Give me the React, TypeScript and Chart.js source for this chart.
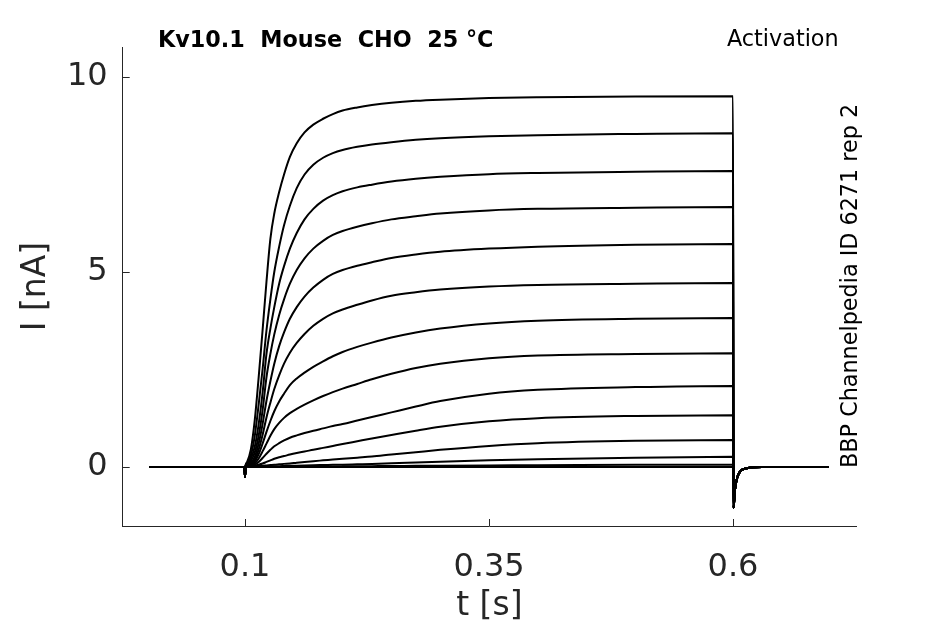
import { useEffect, useRef } from "react";
import { Chart, registerables } from "chart.js";

Chart.register(...registerables);

// sample times (s) of the digitised sweeps
const times = [
  0.002, 0.0995, 0.1, 0.1008,
  0.102, 0.106, 0.11, 0.114, 0.118, 0.122, 0.126, 0.13, 0.135, 0.14, 0.146, 0.153, 0.161, 0.17, 0.18, 0.19, 0.2,
  0.215, 0.23, 0.25, 0.275, 0.3, 0.35, 0.4, 0.5, 0.6,
  0.6005, 0.602, 0.6037, 0.6071, 0.614, 0.63, 0.698,
];

// holding level + capacitive blip at step onset, and tail after the step (nA)
const onset = [0, 0, -0.25, 0.05];
const tail = [-1.05, -0.59, -0.33, -0.12, -0.03, 0, 0];

// current during the step, 0.102 .. 0.6 s (nA), largest sweep first
const sweep1 = [0.12, 0.45, 1.2, 2.3, 3.5, 4.75, 5.85, 6.5, 7.05, 7.5, 7.95, 8.3, 8.58, 8.78, 8.93, 9.05, 9.14, 9.22, 9.28, 9.34, 9.39, 9.42, 9.46, 9.48, 9.5, 9.51];
const sweep2 = [0.1, 0.3, 0.8, 1.6, 2.5, 3.5, 4.3, 5.0, 5.65, 6.2, 6.7, 7.15, 7.5, 7.75, 7.93, 8.05, 8.13, 8.21, 8.27, 8.33, 8.39, 8.43, 8.48, 8.51, 8.54, 8.56];
const sweep3 = [0.08, 0.22, 0.52, 1.1, 1.9, 2.9, 3.55, 4.1, 4.7, 5.15, 5.6, 6.0, 6.35, 6.62, 6.83, 6.97, 7.07, 7.17, 7.24, 7.32, 7.39, 7.44, 7.51, 7.54, 7.57, 7.59];
const sweep4 = [0.07, 0.16, 0.37, 0.8, 1.45, 2.3, 2.9, 3.4, 3.9, 4.3, 4.7, 5.05, 5.35, 5.6, 5.8, 5.95, 6.05, 6.16, 6.25, 6.35, 6.43, 6.5, 6.58, 6.62, 6.65, 6.67];
const sweep5 = [0.06, 0.11, 0.26, 0.6, 1.1, 1.7, 2.2, 2.65, 3.1, 3.45, 3.8, 4.1, 4.37, 4.6, 4.8, 4.95, 5.05, 5.16, 5.25, 5.36, 5.45, 5.52, 5.6, 5.65, 5.7, 5.72];
const sweep6 = [0.05, 0.08, 0.19, 0.45, 0.82, 1.27, 1.65, 2.0, 2.35, 2.65, 2.93, 3.18, 3.41, 3.62, 3.8, 3.94, 4.04, 4.16, 4.27, 4.39, 4.48, 4.55, 4.63, 4.67, 4.7, 4.72];
const sweep7 = [0.05, 0.06, 0.14, 0.33, 0.6, 0.9, 1.18, 1.43, 1.68, 1.88, 2.1, 2.27, 2.42, 2.57, 2.71, 2.84, 2.95, 3.08, 3.19, 3.32, 3.45, 3.55, 3.68, 3.75, 3.8, 3.82];
const sweep8 = [0.05, 0.05, 0.09, 0.22, 0.4, 0.6, 0.8, 0.97, 1.13, 1.26, 1.38, 1.49, 1.6, 1.71, 1.82, 1.92, 2.01, 2.13, 2.25, 2.39, 2.54, 2.65, 2.79, 2.86, 2.9, 2.92];
const sweep9 = [0.04, 0.04, 0.06, 0.13, 0.23, 0.34, 0.44, 0.53, 0.61, 0.68, 0.75, 0.81, 0.87, 0.93, 0.99, 1.05, 1.1, 1.19, 1.28, 1.4, 1.55, 1.69, 1.88, 1.98, 2.05, 2.08];
const sweep10 = [0.04, 0.03, 0.04, 0.06, 0.09, 0.13, 0.17, 0.21, 0.25, 0.28, 0.32, 0.36, 0.4, 0.44, 0.49, 0.54, 0.59, 0.66, 0.73, 0.82, 0.93, 1.03, 1.17, 1.25, 1.31, 1.33];
const sweep11 = [0.02, 0.02, 0.02, 0.025, 0.03, 0.04, 0.05, 0.06, 0.07, 0.08, 0.09, 0.11, 0.13, 0.15, 0.17, 0.19, 0.21, 0.24, 0.27, 0.32, 0.38, 0.44, 0.54, 0.61, 0.67, 0.69];
const sweep12 = [0.01, 0.01, 0.01, 0.01, 0.01, 0.01, 0.015, 0.02, 0.02, 0.025, 0.03, 0.035, 0.04, 0.045, 0.05, 0.055, 0.06, 0.07, 0.08, 0.095, 0.115, 0.135, 0.17, 0.2, 0.24, 0.26];
const sweep13 = [0.01, 0, 0, 0, 0, 0, 0, 0, 0, 0, 0, 0.005, 0.01, 0.01, 0.012, 0.014, 0.016, 0.02, 0.022, 0.025, 0.03, 0.034, 0.04, 0.045, 0.055, 0.06];
const sweep14 = [0.01, 0, 0, 0, 0, 0, 0, 0, 0, 0, 0, 0, 0, 0, 0, 0, 0, 0, 0, 0, 0, 0, 0, 0, 0, 0];

const sweeps = [sweep1, sweep2, sweep3, sweep4, sweep5, sweep6, sweep7, sweep8, sweep9, sweep10, sweep11, sweep12, sweep13, sweep14];

const xTicks = [0.1, 0.35, 0.6];
const yTicks = [0, 5, 10];

const titleText = "Kv10.1  Mouse  CHO  25 °C";
const protocolText = "Activation";
const sourceText = "BBP Channelpedia ID 6271 rep 2";

const FONT = "'DejaVu Sans'";
const AXIS = "#262626";

const decorations = {
  id: "decorations",
  afterDraw(chart: any) {
    const { ctx, chartArea, scales } = chart;
    ctx.save();
    // ticks point into the axes
    ctx.strokeStyle = AXIS;
    ctx.lineWidth = 1;
    xTicks.forEach((v) => {
      const x = Math.round(scales.x.getPixelForValue(v)) + 0.5;
      ctx.beginPath();
      ctx.moveTo(x, chartArea.bottom);
      ctx.lineTo(x, chartArea.bottom - 7);
      ctx.stroke();
    });
    yTicks.forEach((v) => {
      const y = Math.round(scales.y.getPixelForValue(v)) + 0.5;
      ctx.beginPath();
      ctx.moveTo(chartArea.left, y);
      ctx.lineTo(chartArea.left + 7, y);
      ctx.stroke();
    });

    ctx.fillStyle = "#000";
    ctx.textBaseline = "alphabetic";
    ctx.textAlign = "left";
    ctx.font = `bold 22.3px ${FONT}`;
    ctx.fillText(titleText, 158, 47);
    ctx.font = `22.3px ${FONT}`;
    ctx.fillText(protocolText, 727, 46);
    ctx.translate(857, 468);
    ctx.rotate(-Math.PI / 2);
    ctx.fillText(sourceText, 0, 0);
    ctx.restore();
  },
};

export default function App() {
  const chartRef = useRef<HTMLCanvasElement>(null);
  const chartInstance = useRef<Chart | null>(null);

  useEffect(() => {
    if (!chartRef.current) return;
    const ctx = chartRef.current.getContext("2d");
    if (!ctx) return;
    if (chartInstance.current) chartInstance.current.destroy();

    Chart.defaults.font.family = FONT;

    chartInstance.current = new Chart(ctx, {
      type: "line",
      data: {
        datasets: sweeps.map((s) => {
          const current = [...onset, ...s, ...tail];
          return {
            data: times.map((t, i) => ({ x: t, y: current[i] })),
            borderColor: "#000",
            borderWidth: 2,
            pointRadius: 0,
            fill: false,
            cubicInterpolationMode: "monotone" as const,
          };
        }),
      },
      options: {
        responsive: true,
        maintainAspectRatio: false,
        animation: false,
        events: [],
        layout: { padding: { left: 0, right: 89, top: 47, bottom: 0 } },
        plugins: { legend: { display: false }, tooltip: { enabled: false } },
        scales: {
          x: {
            type: "linear",
            min: -0.0253,
            max: 0.726,
            afterBuildTicks: (s: any) => {
              s.ticks = xTicks.map((v) => ({ value: v }));
            },
            afterFit: (s: any) => {
              s.height = 98;
            },
            grid: { display: false, drawTicks: false },
            border: { display: true, color: AXIS, width: 1 },
            ticks: {
              color: AXIS,
              font: { size: 32 },
              padding: 22,
              maxRotation: 0,
              autoSkip: false,
              callback: (v: any) => String(v),
            },
            title: { display: true, text: "t [s]", color: AXIS, font: { size: 33 }, padding: { top: 0, bottom: -2 } },
          },
          y: {
            type: "linear",
            min: -1.513,
            max: 10.77,
            afterBuildTicks: (s: any) => {
              s.ticks = yTicks.map((v) => ({ value: v }));
            },
            afterFit: (s: any) => {
              s.width = 122.7;
            },
            grid: { display: false, drawTicks: false },
            border: { display: true, color: AXIS, width: 1 },
            ticks: {
              color: AXIS,
              font: { size: 32 },
              padding: 15,
              callback: (v: any) => String(v),
            },
            title: { display: true, text: "I [nA]", color: AXIS, font: { size: 33 }, padding: { top: 17, bottom: 0 } },
          },
        },
      },
      plugins: [decorations],
    });

    return () => {
      if (chartInstance.current) {
        chartInstance.current.destroy();
        chartInstance.current = null;
      }
    };
  }, []);

  return (
    <div style={{ position: "fixed", left: 0, top: 0, width: 945, height: 624, background: "#fff" }}>
      <canvas ref={chartRef}></canvas>
    </div>
  );
}
